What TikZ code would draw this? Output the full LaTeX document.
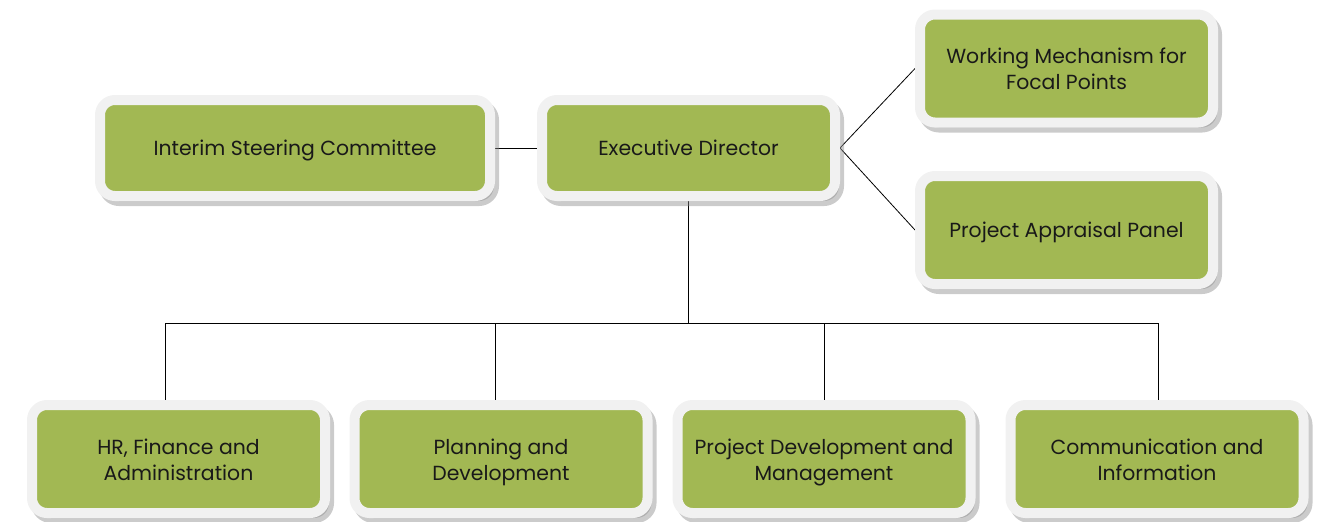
\documentclass[tikz,border=0pt]{standalone}
\usepackage{fontspec}
\setmainfont{Poppins}
\usetikzlibrary{shadows}
\usetikzlibrary{backgrounds}
\definecolor{boxgreen}{HTML}{A2B853}
\definecolor{boxrim}{HTML}{F1F1F1}

\begin{document}
\begin{tikzpicture}[x=1pt,y=-1pt]
	\useasboundingbox (0,0) rectangle (1334,522);
	\begin{scope}[every node/.style={rectangle, rounded corners=15pt, fill=boxgreen, draw=boxrim,
	              line width=10pt, outer sep=5pt, minimum width=293pt, minimum height=108pt,
	              align=center, text=black!90, font=\fontsize{20.4}{25.7}\selectfont,
	              text height=21pt, text depth=6pt,
	              drop shadow={shadow xshift=4pt, shadow yshift=-5pt, fill=black!45, draw=black!45, line width=10pt, opacity=0.45}},
	              twoline/.style={text height=48pt}]
		\node (1) at (295,148) [minimum width=390pt, minimum height=96pt] {Interim Steering Committee};
		\node (2) at (688.5,148) [minimum height=96pt] {Executive Director};
		\node (3) at (1066.5,68.5) [twoline] {Working Mechanism for\\Focal Points};
		\node (4) at (1066.5,230) {Project Appraisal Panel};
		\node (5) at (178.5,459) [twoline] {HR, Finance and\\Administration};
		\node (6) at (501,459) [twoline] {Planning and\\Development};
		\node (7) at (824,459) [twoline] {Project Development and\\Management};
		\node (8) at (1157,459) [twoline] {Communication and\\Information};
	\end{scope}

	\coordinate (bus) at (688.5,323);
	\coordinate (d1) at (165,323);
	\coordinate (d2) at (495,323);
	\coordinate (d3) at (824,323);
	\coordinate (d4) at (1158,323);

	\begin{scope}[on background layer, every edge/.style={draw=black, line width=0.8pt}]
		\path (1) edge (2);
		\path (2.east) edge (3.west);
		\path (2.east) edge (4.west);
		\path (2.south) edge (bus);
		\path (d1) edge (d4);
		\path (d1) edge (d1 |- 5.north);
		\path (d2) edge (d2 |- 6.north);
		\path (d3) edge (d3 |- 7.north);
		\path (d4) edge (d4 |- 8.north);
	\end{scope}
\end{tikzpicture}
\end{document}
